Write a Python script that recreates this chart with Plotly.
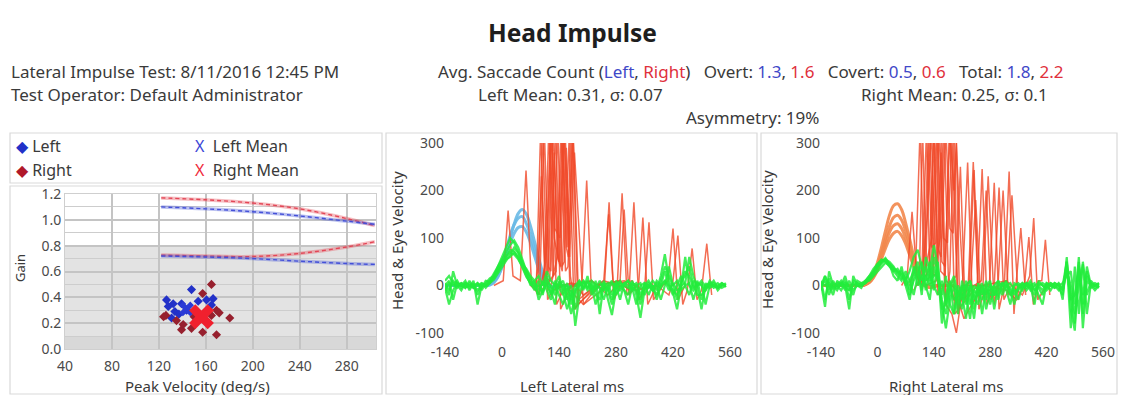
import plotly.graph_objects as go

# page body has an 8px margin: the figure is sized to fit inside it
OFF = 8
W, H = 1126 - 2 * OFF, 403 - 2 * OFF
FONT = "Noto Sans"
TXT = "#3a3a3a"
BLUE_T = "#3f48c8"
RED_T = "#e0303c"

# ---------------- data ----------------
# Gain scatter (Peak velocity deg/s, gain)
left_vel = [126.5, 132.2, 133.6, 130.8, 139.3, 143.6, 147.8, 153.5, 160.6, 166.2, 164.8, 128.0, 137.0]
left_gain = [0.38, 0.35, 0.29, 0.24, 0.35, 0.30, 0.46, 0.37, 0.38, 0.39, 0.34, 0.33, 0.27]
right_vel = [126.0, 135.0, 139.3, 147.8, 157.3, 164.8, 164.8, 157.3, 169.1, 171.4, 180.4, 169.1, 150.0, 140.7, 124.0]
right_gain = [0.26, 0.22, 0.15, 0.16, 0.13, 0.26, 0.50, 0.43, 0.30, 0.28, 0.24, 0.11, 0.25, 0.19, 0.25]
left_mean = (143.6, 0.31)
right_mean = (156.3, 0.25)

norm_x = [122, 160, 200, 240, 280, 304]
norm_left_upper = [1.10, 1.085, 1.063, 1.03, 0.99, 0.965]
norm_right_upper = [1.17, 1.155, 1.13, 1.085, 1.01, 0.955]
norm_right_lower = [0.727, 0.72, 0.716, 0.74, 0.79, 0.83]
norm_left_lower = [0.72, 0.712, 0.70, 0.68, 0.662, 0.655]

gain_xticks = [40, 80, 120, 160, 200, 240, 280]
gain_yticks = [0.0, 0.2, 0.4, 0.6, 0.8, 1.0, 1.2]
gain_ylabels = ["0.0", "0.2", "0.4", "0.6", "0.8", "1.0", "1.2"]
ms_ticks = [-140, 0, 140, 280, 420, 560]
ms_labels = ["-140", "0", "140", "280", "420", "560"]
vel_ticks = [-100, 0, 100, 200, 300]
vel_labels = ["-100", "0", "100", "200", "300"]

# head velocity traces (ms, deg/s)
t_head = list(range(-140, 200, 10))
head_left = [
    [0, 0, 0, 0, 0, 0, 0, 0, 0, 0, 0, 2, 8, 20, 40, 70, 100, 130, 152, 160, 150, 125, 92, 58, 28, 8, -2, -5, -3, 0, 0, 0, 0, 0],
    [0, 0, 0, 0, 0, 0, 0, 0, 0, 0, 0, 3, 10, 24, 45, 75, 105, 128, 142, 145, 130, 105, 75, 45, 20, 5, -3, -4, -2, 0, 0, 0, 0, 0],
    [0, 0, 0, 0, 0, 0, 0, 0, 0, 0, 0, 1, 6, 18, 38, 62, 88, 110, 122, 124, 112, 90, 62, 35, 14, 3, -2, -3, -1, 0, 0, 0, 0, 0],
]
head_right = [
    [0, 0, 0, 0, 0, 0, 0, 0, 0, 0, 0, 3, 10, 25, 48, 80, 115, 148, 168, 172, 160, 132, 98, 62, 30, 10, 0, -4, -3, 0, 0, 0, 0, 0],
    [0, 0, 0, 0, 0, 0, 0, 0, 0, 0, 0, 2, 8, 20, 40, 68, 98, 125, 143, 148, 138, 115, 85, 52, 25, 7, -2, -4, -2, 0, 0, 0, 0, 0],
    [0, 0, 0, 0, 0, 0, 0, 0, 0, 0, 0, 2, 7, 18, 36, 60, 88, 112, 126, 130, 120, 100, 74, 46, 21, 6, -1, -3, -1, 0, 0, 0, 0, 0],
    [0, 0, 0, 0, 0, 0, 0, 0, 0, 0, 0, 2, 6, 16, 32, 55, 78, 98, 110, 114, 105, 88, 64, 40, 18, 5, -1, -3, -1, 0, 0, 0, 0, 0],
]

# saccade eye-velocity traces (red), each: (ms list, deg/s list)
sacc_left = [
    ([-20, 3, 15, 27, 45, 59, 72, 88, 100, 112, 125, 150, 170, 196, 208, 220, 240],
     [0, 10, 158, 20, 10, 242, 10, -20, 330, -30, -10, 0, 5, 0, 221, -20, 0]),
    ([70, 84, 95, 106, 112, 122, 134, 150, 180, 220, 251, 263, 275, 290],
     [0, -10, 330, 20, 30, 340, -40, -10, 0, 10, -10, 175, -30, 0]),
    ([80, 92, 104, 114, 120, 132, 144, 170, 220, 260, 283, 295, 307, 330],
     [0, -20, 330, 40, 30, 330, -50, 0, 10, -20, 0, 194, -20, 0]),
    ([90, 103, 115, 126, 133, 145, 156, 162, 175, 188, 230, 290, 312, 324, 336, 355],
     [0, -10, 330, 20, 30, 330, 30, 40, 320, -30, 0, 10, -10, 175, -30, 0]),
    ([100, 114, 126, 137, 143, 155, 167, 200, 260, 320, 334, 346, 358, 380],
     [0, 30, 330, 60, 40, 330, -10, -40, 0, 10, -20, 143, -40, 0]),
    ([110, 125, 137, 147, 153, 165, 177, 230, 300, 350, 361, 372, 395, 408, 420, 432, 450],
     [0, 20, 330, 40, 50, 310, -50, 0, 10, -10, 133, -30, 0, 10, 120, -30, 0]),
    ([120, 136, 148, 158, 163, 174, 186, 250, 330, 380, 410, 420, 432, 444, 455, 467, 479, 490, 503, 515],
     [0, 60, 320, 80, 60, 330, -40, 10, -10, 0, -20, 10, 105, -40, -10, 78, -30, -10, 88, -20]),
    ([80, 89, 97, 105, 117, 128, 138, 148, 158, 168, 180, 200],
     [-10, 40, 230, 20, 10, 280, 60, 30, 290, 20, -50, 0]),
    ([95, 108, 118, 128, 140, 150, 160, 170, 180, 200, 230, 250, 262, 274, 290],
     [0, 50, 300, 100, 50, 300, 80, 330, 0, -20, 0, 10, 150, -10, 0]),
    ([100, 111, 121, 130, 142, 152, 166, 178, 200, 236, 290, 300, 312, 330],
     [0, 100, 330, 120, 100, 330, 60, 280, -40, 0, 10, 160, -20, 0]),
]
sacc_right = [
    ([60, 74, 86, 98, 104, 112, 122, 132, 140, 150, 170, 210, 224, 236, 260],
     [0, 20, 155, 20, 10, 330, 10, 20, 330, -20, 10, -20, 259, -40, 0]),
    ([80, 95, 106, 116, 120, 130, 140, 150, 160, 170, 185, 196, 208, 228, 240, 252, 270],
     [0, 40, 330, 30, 40, 330, 20, 30, 320, -40, -60, -100, -30, 10, 243, -50, 0]),
    ([90, 110, 122, 130, 136, 150, 160, 168, 180, 192, 230, 248, 260, 272, 290, 302, 314, 330],
     [-10, 20, 330, 20, 10, 330, 50, 40, 330, -60, -20, 0, 245, -40, 0, 206, -30, 0]),
    ([100, 128, 140, 150, 158, 170, 180, 188, 196, 205, 215, 240, 278, 290, 302, 315, 327, 339, 345, 356, 368],
     [0, 30, 330, 80, 60, 330, 120, 110, 300, 120, -30, 0, 0, 216, -50, 0, 240, -60, 10, 121, -20]),
    ([110, 135, 147, 157, 168, 179, 190, 196, 204, 215, 260, 320, 345, 365, 376, 387, 400, 408, 417, 428],
     [0, 100, 330, 30, 20, 330, 200, 300, -40, -70, 0, -10, -30, 0, 102, -40, 10, 10, 96, -20]),
    ([120, 146, 158, 168, 180, 190, 200, 210, 260, 320, 360, 378, 388, 398, 420],
     [0, 10, 280, -40, 30, 330, -60, 0, 0, 10, -20, 20, 142, -30, 0]),
    ([100, 116, 126, 135, 145, 154, 164, 174, 185, 200, 220, 232, 244, 256, 300],
     [0, 60, 300, 80, 90, 330, 100, 90, 310, -50, 0, 10, 180, -20, 0]),
    ([112, 124, 134, 144, 156, 166, 176, 190, 240, 258, 270, 282, 300, 322, 334, 350],
     [20, 150, 330, 40, 100, 330, 20, -30, 0, 10, 200, -30, 0, 10, 190, -30]),
    ([180, 195, 206, 217, 226, 238, 250, 262, 275, 290, 300, 312, 325],
     [0, 20, 250, -30, 10, 260, -20, 0, 230, -40, 10, 200, -20]),
]

# slow-phase eye velocity traces (green), sampled every 10 ms
t_eye = list(range(-140, 560, 10))
eye_left = [
    [-5, -40, -10, 5, 0, -5, 5, 0, -10, 0,
     3, 10, 25, 40, 55, 70, 85, 95, 80, 55,
     30, 10, 0, -20, 10, -10, -30, 5, -20, -40,
     -10, 0, -85, -20, 10, -5, 5, -10, 0, 5,
     -30, -62, -10, 5, 0, -5, 10, -20, -68, -10,
     5, 0, -10, 20, 66, 10, -15, -50, 0, 5,
     60, 20, -5, -50, 0, 5, -5, 0, 5, -3],
    [10, 20, 5, -5, 5, 0, -5, 10, -40, 0,
     0, 5, 20, 35, 50, 60, 70, 65, 55, 40,
     20, 5, -10, 10, -20, 20, -10, -40, 10, -15,
     -50, -20, 0, 10, -5, 5, 0, -40, -10, 0,
     5, -20, 10, 0, -10, -40, 0, 5, -20, 0,
     -5, 10, 0, -30, 0, 40, 0, 10, -10, 0,
     -20, 10, 0, 5, -40, 0, 10, -5, 0, 5],
    [0, -20, 30, 0, -10, 5, 0, -5, 5, -5,
     10, 8, 15, 30, 45, 55, 60, 70, 60, 45,
     35, 20, 10, 20, 0, 30, 10, 0, 20, -10,
     5, -30, -10, 0, 10, -5, 10, 0, -5, -30,
     0, 10, -20, -5, 5, 0, -10, 0, 5, -20,
     0, -10, 5, -5, 10, -10, 5, -10, -5, 60,
     0, -10, 5, 0, -10, 5, 0, -5, 3, 0],
    [-10, 5, 0, 10, -5, 5, 0, 0, 5, -10,
     5, 15, 20, 40, 60, 80, 100, 90, 70, 50,
     25, 0, 10, -30, -10, 10, 0, -20, 0, 10,
     -20, -60, -20, 10, -10, 20, -20, 10, -60, 5,
     -10, 5, 0, -30, 5, 10, -5, -40, 0, 5,
     -20, 0, -30, 0, 10, 0, -20, 0, 20, 0,
     5, -30, 0, 10, -5, 0, 5, -10, 0, 0],
    [5, -10, 10, 0, 5, -5, 10, -5, 0, 5,
     0, 8, 18, 32, 48, 62, 75, 72, 58, 38,
     18, 5, -5, 0, -15, 5, -20, 10, -5, -20,
     0, -40, -10, 5, -5, 10, -10, -5, 10, -10,
     -5, -30, 0, 10, -10, -20, 5, 0, -30, 5,
     0, -10, 10, 0, 30, 0, -10, -20, 5, 30,
     20, -5, 10, -30, 5, -5, 0, 5, -5, 0],
    [0, 10, -30, 5, 0, 10, -10, 5, -20, 5,
     -5, 5, 12, 25, 38, 52, 65, 80, 68, 48,
     30, 15, 5, -10, 5, 0, -15, -10, 5, 0,
     -30, -10, -50, 0, 5, -10, 0, -20, -30, 10,
     -10, -40, 5, -10, 0, 10, -5, -10, -40, 0,
     10, -5, -20, 10, 40, 20, 0, -30, 10, 20,
     40, 0, -20, -20, -10, 10, 0, -5, 5, 0],
]
eye_right = [
    [5, -45, 30, 0, -10, 5, 0, -50, 20, 0,
     -5, 10, 20, 30, 45, 55, 50, 40, 30, 35,
     20, 10, 30, 60, 75, 40, -10, 30, 85, 40,
     -80, -20, 10, -60, 0, -20, -70, 10, -30, 0,
     -60, 0, 10, -50, 0, 5, -10, -40, 5, 0,
     -10, 5, 0, -40, 10, 0, -5, 5, 0, -10,
     0, 50, -90, 40, -60, 50, -20, 10, 0, 5],
    [-10, 20, 0, -20, 10, 0, 20, -10, 0, 5,
     0, 5, 15, 25, 40, 50, 58, 45, 20, 10,
     40, 0, -30, 20, 40, -20, 60, 30, -10, 50,
     -40, -90, -30, 0, -60, 10, -20, -70, 0, -10,
     5, -50, -10, 0, -30, 5, 0, -10, -40, 0,
     5, -10, 0, 5, -20, -40, 5, 0, -5, 5,
     -30, 60, -50, -95, 50, -40, 40, 0, -10, 0],
    [0, 10, -20, 5, 0, -10, 5, 0, -20, 10,
     5, 10, 10, 20, 30, 40, 48, 42, 30, 20,
     10, 30, 10, -20, 20, 50, 0, -30, 40, 10,
     -20, 20, -40, -60, -10, -30, 10, -20, -70, 5,
     -20, 10, -40, 0, 10, -20, 0, 5, -10, -30,
     0, 5, -10, 0, 5, 0, -10, 0, 5, 0,
     -10, 30, 0, -60, 0, 45, -60, 5, 0, -5],
    [5, 0, 5, -5, 0, 10, -5, -10, 5, 0,
     0, 8, 20, 35, 45, 52, 55, 45, 35, 30,
     15, 20, -10, 40, 0, 20, 10, 50, 0, -20,
     10, -40, 0, 20, -20, -50, 0, 10, -20, -40,
     0, -20, 5, -20, -10, 0, 10, -20, 0, 5,
     -5, 0, 10, -10, 0, 5, 0, -10, 5, 0,
     5, 20, 30, -40, 60, -90, 10, 0, 5, 0],
    [10, -30, 15, -10, 5, 0, 10, -30, 10, 5,
     0, 5, 15, 28, 40, 50, 52, 45, 38, 28,
     30, 0, 10, 30, 50, 10, 20, 0, 60, 20,
     -50, -40, 0, -30, -20, 0, -40, 0, -50, -10,
     -30, -10, -20, -20, 10, -10, 0, -20, -10, -10,
     5, 0, -5, -20, 0, -10, 5, 0, -5, 5,
     -10, 40, -30, -20, 30, -60, 20, 5, -5, 0],
    [0, 20, -10, 10, -5, 5, -10, 10, -10, 0,
     5, 5, 12, 22, 35, 45, 55, 50, 40, 25,
     25, 15, -20, 10, 30, -10, 40, 10, 20, 30,
     -30, -60, -10, 10, -40, -10, 0, -40, -10, -20,
     -10, -30, 0, -10, -20, 0, 5, -5, -20, -5,
     0, -5, 5, -10, -5, -20, 0, 5, 0, -5,
     -20, 50, -20, -80, 40, -20, 30, -5, 0, 5],
]

# ---------------- helpers (reference-pixel -> paper coords) ----------------
def px(x):
    return (x - OFF) / W

def py(y):
    return 1 - (y - OFF) / H

fig = go.Figure()

# ---- gain scatter panel (x, y) ----
NB = "rgba(64,80,216,0.35)"
NR = "rgba(230,70,80,0.35)"
for ys, solid, dash in [(norm_right_upper, NR, "#e34656"), (norm_left_upper, NB, "#4450d8"),
                        (norm_right_lower, NR, "#e34656"), (norm_left_lower, NB, "#4450d8")]:
    fig.add_trace(go.Scatter(x=norm_x, y=ys, mode="lines", line=dict(color=solid, width=3.5, shape="spline"),
                             xaxis="x", yaxis="y", hoverinfo="skip"))
    fig.add_trace(go.Scatter(x=norm_x, y=ys, mode="lines", line=dict(color=dash, width=1.4, dash="4px,3px", shape="spline"),
                             xaxis="x", yaxis="y", hoverinfo="skip"))

fig.add_trace(go.Scatter(x=left_vel, y=left_gain, mode="markers",
                         marker=dict(symbol="diamond", size=7, color="#2231c8"), xaxis="x", yaxis="y"))
fig.add_trace(go.Scatter(x=right_vel, y=right_gain, mode="markers",
                         marker=dict(symbol="diamond", size=7, color="#97202e"), xaxis="x", yaxis="y"))
fig.add_trace(go.Scatter(x=[left_mean[0]], y=[left_mean[1]], mode="markers",
                         marker=dict(symbol="x", size=13, color="#2b3ad6"), xaxis="x", yaxis="y"))
fig.add_trace(go.Scatter(x=[right_mean[0]], y=[right_mean[1]], mode="markers",
                         marker=dict(symbol="x", size=22, color="#f0202e"), xaxis="x", yaxis="y"))

# ---- velocity panels ----
def add_velocity_panel(xa, ya, heads, head_color, saccs, eyes):
    for h in heads:
        fig.add_trace(go.Scatter(x=t_head, y=h, mode="lines", line=dict(color=head_color, width=3, shape="spline"),
                                 xaxis=xa, yaxis=ya, hoverinfo="skip"))
    for tx, vy in saccs:
        fig.add_trace(go.Scatter(x=tx, y=vy, mode="lines",
                                 line=dict(color="rgba(240,72,40,0.8)", width=1.5),
                                 xaxis=xa, yaxis=ya, hoverinfo="skip"))
    for e in eyes:
        fig.add_trace(go.Scatter(x=t_eye, y=e, mode="lines", line=dict(color="rgba(34,236,60,0.85)", width=2.2),
                                 xaxis=xa, yaxis=ya, hoverinfo="skip"))

add_velocity_panel("x2", "y2", head_left, "rgba(105,185,230,0.9)", sacc_left, eye_left)
add_velocity_panel("x3", "y3", head_right, "rgba(242,135,75,0.9)", sacc_right, eye_right)

tickfont = dict(family=FONT, size=14, color="#4a4a4a")

common = dict(zeroline=False, automargin=False, fixedrange=True, ticks="", tickfont=tickfont)
layout = dict(
    width=W, height=H, margin=dict(l=0, r=0, t=0, b=0, pad=0, autoexpand=False),
    paper_bgcolor="white", plot_bgcolor="white", showlegend=False,
    font=dict(family=FONT, color=TXT),
    xaxis=dict(common, domain=[px(65), px(376)], range=[40, 305], tickvals=gain_xticks, showgrid=True,
               gridcolor="#c4c4c4", gridwidth=1.5, showline=True, linecolor="#cfcfcf", mirror=True,
               anchor="y", ticklabelstandoff=4),
    yaxis=dict(common, domain=[py(349), py(194)], range=[0, 1.2], tickvals=gain_yticks, ticktext=gain_ylabels,
               showgrid=True, gridcolor="#c4c4c4", gridwidth=1.5, showline=True, linecolor="#cfcfcf", mirror=True,
               minor=dict(dtick=0.1, showgrid=True, gridcolor="#cdcdcd", gridwidth=1.3), anchor="x"),
    xaxis2=dict(common, domain=[px(445), px(730)], range=[-140, 560], tickvals=ms_ticks, ticktext=ms_labels,
                showgrid=False, showline=False, anchor="y2", ticklabelstandoff=9),
    yaxis2=dict(common, domain=[py(333), py(143)], range=[-100, 300], tickvals=vel_ticks, ticktext=vel_labels,
                showgrid=False, showline=False, anchor="x2"),
    xaxis3=dict(common, domain=[px(821), px(1103)], range=[-140, 560], tickvals=ms_ticks, ticktext=ms_labels,
                showgrid=False, showline=False, anchor="y3", ticklabelstandoff=9, ticklabeloverflow="allow"),
    yaxis3=dict(common, domain=[py(333), py(143)], range=[-100, 300], tickvals=vel_ticks, ticktext=vel_labels,
                showgrid=False, showline=False, anchor="x3"),
)
fig.update_layout(**layout)

# shapes: panel boxes and shaded gain region
box = dict(type="rect", xref="paper", yref="paper", line=dict(color="#d9d9d9", width=1.2), fillcolor="rgba(0,0,0,0)", layer="below")
shapes = [
    dict(box, x0=px(10), x1=px(382), y0=py(183), y1=py(133)),
    dict(box, x0=px(10), x1=px(382), y0=py(394), y1=py(186)),
    dict(box, x0=px(386), x1=px(757), y0=py(394), y1=py(133)),
    dict(box, x0=px(761), x1=px(1117), y0=py(394), y1=py(133)),
    dict(type="rect", xref="x", yref="y", x0=40, x1=305, y0=0, y1=0.8, fillcolor="#e3e3e3", line=dict(width=0), layer="below"),
    dict(type="rect", xref="x", yref="y", x0=40, x1=305, y0=0, y1=0.1, fillcolor="#d8d8d8", line=dict(width=0), layer="below"),
]
fig.update_layout(shapes=shapes)

def ann(text, x, y, size=15, xanchor="left", **kw):
    return dict(text=text, x=px(x), y=py(y), xref="paper", yref="paper", showarrow=False,
                xanchor=xanchor, yanchor="middle", font=dict(family=FONT, size=size, color=kw.pop("color", TXT)), **kw)

b = lambda s: f"<span style='color:{BLUE_T}'>{s}</span>"
r = lambda s: f"<span style='color:{RED_T}'>{s}</span>"
gap = "&nbsp;&nbsp;&nbsp;"

annotations = [
    ann("<b>Head Impulse</b>", 572, 33, size=24.5, xanchor="center", color="#1e1e1e"),
    ann("Lateral Impulse Test: 8/11/2016 12:45 PM", 9, 71, size=17),
    ann("Test Operator: Default Administrator", 9, 94, size=17),
    ann(f"Avg. Saccade Count ({b('Left')}, {r('Right')}){gap}Overt: {b('1.3')}, {r('1.6')}{gap}Covert: {b('0.5')}, {r('0.6')}{gap}Total: {b('1.8')}, {r('2.2')}",
        751, 71, size=17, xanchor="center"),
    ann("Left Mean: 0.31, σ: 0.07", 570, 94, size=17, xanchor="center"),
    ann("Right Mean: 0.25, σ: 0.1", 955, 94, size=17, xanchor="center"),
    ann("Asymmetry: 19%", 752, 117, size=17, xanchor="center"),
    # legend
    ann("<span style='color:#2231c8'>◆</span> Left", 14, 146, size=16),
    ann("<span style='color:#b0182a'>◆</span> Right", 14, 170, size=16),
    ann("<span style='color:#3a46d6'>X</span>&nbsp; Left Mean", 193, 146, size=16),
    ann("<span style='color:#ef2a3a'>X</span>&nbsp; Right Mean", 193, 170, size=16),
    # axis titles
    ann("Gain", 20, 268, size=13, xanchor="center", textangle=-90),
    ann("Peak Velocity (deg/s)", 197, 386, size=15, xanchor="center"),
    ann("Head &amp; Eye Velocity", 397, 240, size=15, xanchor="center", textangle=-90),
    ann("Left Lateral ms", 572, 386, size=15, xanchor="center"),
    ann("Head &amp; Eye Velocity", 767, 240, size=15, xanchor="center", textangle=-90),
    ann("Right Lateral ms", 946, 386, size=15, xanchor="center"),
]
fig.update_layout(annotations=annotations)

fig.write_html("out.html")
